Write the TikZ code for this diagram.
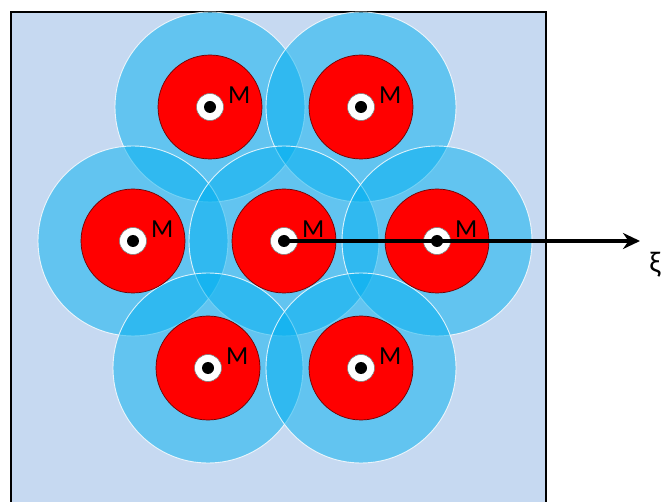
\documentclass[tikz,border=0pt]{standalone}
\usepackage{fontspec}
\setmainfont{Carlito}
\usetikzlibrary{arrows.meta}
\definecolor{bgblue}{RGB}{198,217,241}
\definecolor{haloblue}{RGB}{0,176,240}
\definecolor{rimred}{RGB}{110,0,0}
\begin{document}
\begin{tikzpicture}[x=1pt, y=-1pt, >={Stealth[length=17pt, width=16pt]},
		halo/.style={circle, inner sep=0pt, minimum size=190pt, fill=haloblue, fill opacity=0.5, draw=white, draw opacity=0.8, line width=0.9pt},
		core/.style={circle, inner sep=0pt, minimum size=104pt, fill=red, draw=rimred, line width=0.7pt},
		pivot/.style={circle, inner sep=0pt, minimum size=27pt, fill=white, draw=gray, line width=0.6pt},
		dot/.style={circle, inner sep=0pt, minimum size=12pt, fill=black},
		mlabel/.style={font=\fontsize{26}{28}\selectfont, inner sep=0pt, anchor=base west}]
	\useasboundingbox (0,0) rectangle (661,502);
	% 1. 背景方框 (底边开口)
	\fill[bgblue] (11,12) rectangle (546,502);
	\draw[line width=1.2pt] (11,502) -- (11,12) -- (546,12) -- (546,502);
	
	% 2. 蓝色外圈 (半透明, 重叠处变深)
	\foreach \n/\x/\y in {a/210/107, b/361/107, c/133/241, d/284/241, e/437/241, f/208/368, g/361/368}
		\node[halo] (h\n) at (\x,\y) {};
	
	% 3. 红色内核、白圈黑点与标号
	\foreach \n/\x/\y in {a/210/107, b/361/107, c/133/241, d/284/241, e/437/241, f/208/368, g/361/368} {
		\node[core] (c\n) at (\x,\y) {};
		\node[pivot] (p\n) at (\x,\y) {};
		\node[dot] (d\n) at (\x,\y) {};
		\node[mlabel] (m\n) at ([xshift=18pt, yshift=3pt]p\n.center) {M};
	}
	
	% 4. 坐标箭头
	\coordinate (tip) at (640,241);
	\draw[->, line width=3.5pt] (dd.center) -- (tip);
	\node[font=\fontsize{30}{32}\selectfont] (xi) at (655,265) {ξ};
\end{tikzpicture}
\end{document}
